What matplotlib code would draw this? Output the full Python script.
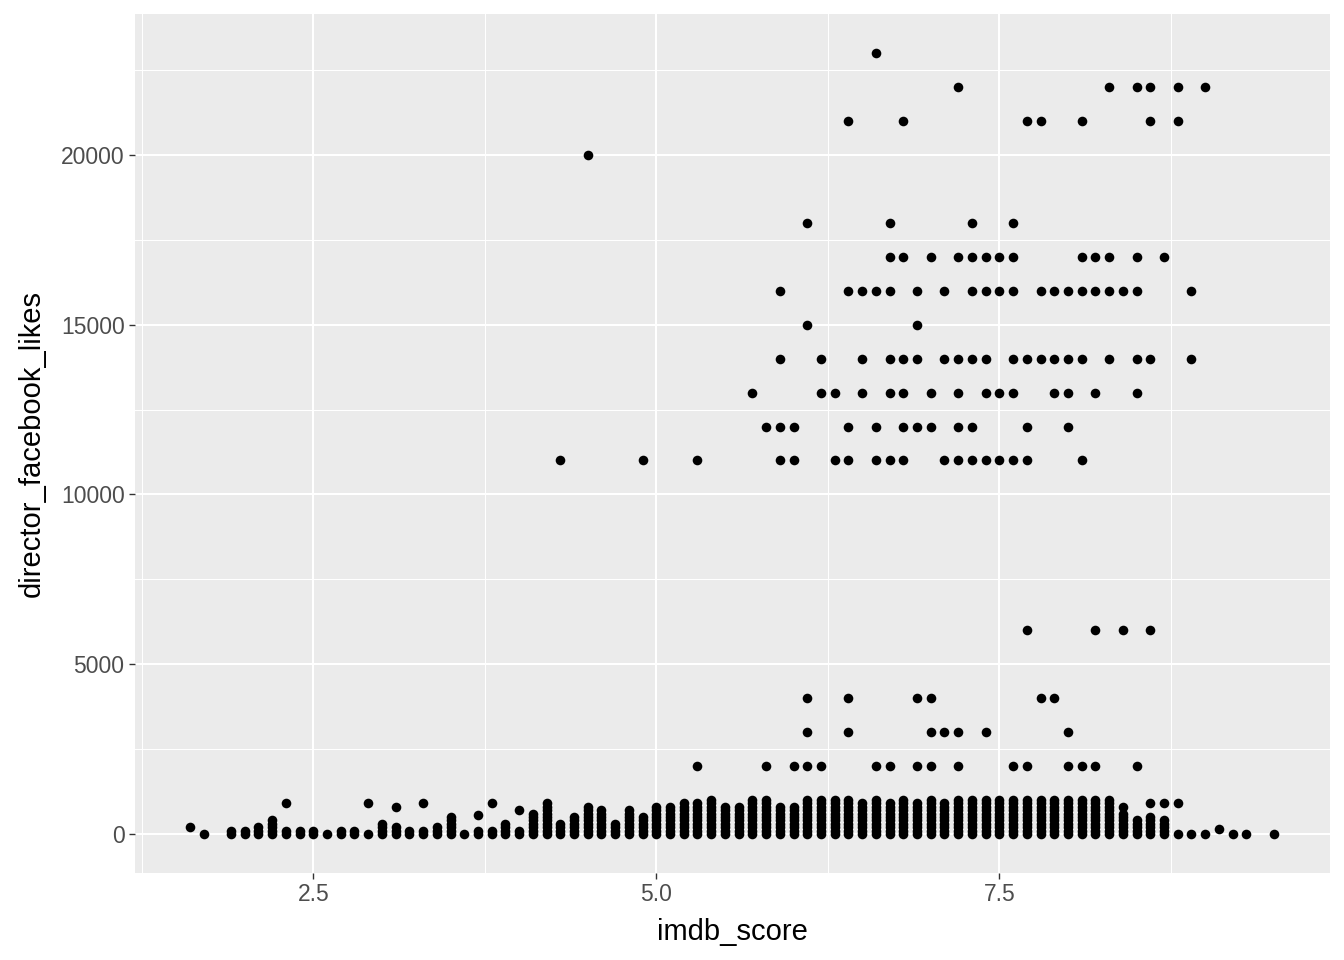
import matplotlib.pyplot as plt
import numpy as np

plt.rcParams['font.family'] = ['Liberation Sans', 'DejaVu Sans']

# low band (0-1000): score -> top value of the stacked column
low_x = [1.7, 1.9, 2.0, 2.1, 2.2, 2.3, 2.4, 2.5, 2.6, 2.7, 2.8, 2.9, 3.0, 3.1, 3.2, 3.3,
         3.4, 3.5, 3.6, 3.7, 3.8, 3.9, 4.0, 4.1, 4.2, 4.3, 4.4, 4.5, 4.6, 4.7, 4.8, 4.9,
         5.0, 5.1, 5.2, 5.3, 5.4, 5.5, 5.6, 5.7, 5.8, 5.9, 6.0, 6.1, 6.2, 6.3, 6.4, 6.5,
         6.6, 6.7, 6.8, 6.9, 7.0, 7.1, 7.2, 7.3, 7.4, 7.5, 7.6, 7.7, 7.8, 7.9, 8.0, 8.1,
         8.2, 8.3, 8.4, 8.5, 8.6, 8.7, 8.8, 8.9, 9.0, 9.2, 9.3, 9.5]
low_top = [0, 100, 100, 200, 400, 100, 100, 100, 0, 100, 100, 0, 300, 200, 100, 100,
           200, 500, 0, 100, 100, 300, 100, 600, 900, 300, 500, 800, 700, 300, 700, 500,
           800, 800, 900, 900, 1000, 800, 800, 1000, 1000, 800, 800, 1000, 1000, 1000, 1000, 900,
           1000, 900, 1000, 900, 1000, 900, 1000, 1000, 1000, 1000, 1000, 1000, 1000, 1000, 1000, 1000,
           1000, 1000, 600, 400, 500, 400, 0, 0, 0, 0, 0, 0]
low_levels = [0, 100, 200, 300, 400, 500, 600, 700, 800, 900, 1000]

# isolated points in the low band
extra_x = [1.6, 2.3, 2.9, 3.1, 3.3, 3.7, 3.8, 4.0, 8.4, 8.6, 8.7, 8.8, 9.1]
extra_y = [200, 900, 900, 800, 900, 550, 900, 700, 800, 900, 900, 900, 150]

# higher values, grouped by likes level
lv23 = [6.6]
lv22 = [7.2, 8.3, 8.5, 8.6, 8.8, 9.0]
lv21 = [6.4, 6.8, 7.7, 7.8, 8.1, 8.6, 8.8]
lv20 = [4.5]
lv18 = [6.1, 6.7, 7.3, 7.6]
lv17 = [6.7, 6.8, 7.0, 7.2, 7.3, 7.4, 7.5, 7.6, 8.1, 8.2, 8.3, 8.5, 8.7]
lv16 = [5.9, 6.4, 6.5, 6.6, 6.7, 6.9, 7.1, 7.3, 7.4, 7.5, 7.6, 7.8, 7.9, 8.0, 8.1, 8.2,
        8.3, 8.4, 8.5, 8.9]
lv15 = [6.1, 6.9]
lv14 = [5.9, 6.2, 6.5, 6.7, 6.8, 6.9, 7.1, 7.2, 7.3, 7.4, 7.6, 7.7, 7.8, 7.9, 8.0, 8.1,
        8.3, 8.5, 8.6, 8.9]
lv13 = [5.7, 6.2, 6.3, 6.5, 6.7, 6.8, 7.0, 7.2, 7.4, 7.5, 7.6, 7.9, 8.0, 8.2, 8.5]
lv12 = [5.8, 5.9, 6.0, 6.4, 6.6, 6.8, 6.9, 7.0, 7.2, 7.3, 7.7, 8.0]
lv11 = [4.3, 4.9, 5.3, 5.9, 6.0, 6.3, 6.4, 6.6, 6.7, 6.8, 7.1, 7.2, 7.3, 7.4, 7.5, 7.6,
        7.7, 8.1]
lv6 = [7.7, 8.2, 8.4, 8.6]
lv4 = [6.1, 6.4, 6.9, 7.0, 7.8, 7.9]
lv3 = [6.1, 6.4, 7.0, 7.1, 7.2, 7.4, 8.0]
lv2 = [5.3, 5.8, 6.0, 6.1, 6.2, 6.6, 6.7, 6.9, 7.0, 7.2, 7.6, 7.7, 8.0, 8.1, 8.2, 8.5]

levels = {23000: lv23, 22000: lv22, 21000: lv21, 20000: lv20, 18000: lv18, 17000: lv17,
          16000: lv16, 15000: lv15, 14000: lv14, 13000: lv13, 12000: lv12, 11000: lv11,
          6000: lv6, 4000: lv4, 3000: lv3, 2000: lv2}

X, Y = [], []
for xv, top in zip(low_x, low_top):
    for lv in low_levels:
        if lv <= top:
            X.append(xv)
            Y.append(lv)
X += extra_x
Y += extra_y
for yv, xs in levels.items():
    X += xs
    Y += [yv] * len(xs)

fig = plt.figure(figsize=(13.44, 9.6), dpi=100)
ax = fig.add_axes([0.1004, 0.0906, 0.8892, 0.8948])
ax.set_facecolor('#EBEBEB')
ax.scatter(X, Y, s=48, color='black', linewidths=0, zorder=3)

ax.set_xlim(1.20, 9.91)
ax.set_ylim(-1150, 24150)
ax.set_xticks([2.5, 5.0, 7.5])
ax.set_xticklabels(['2.5', '5.0', '7.5'])
ax.set_xticks([1.25, 3.75, 6.25, 8.75], minor=True)
ax.set_yticks([0, 5000, 10000, 15000, 20000])
ax.set_yticks([2500, 7500, 12500, 17500, 22500], minor=True)

ax.grid(which='major', color='white', linewidth=1.5)
ax.grid(which='minor', color='white', linewidth=0.75)
ax.set_axisbelow(True)
for s in ax.spines.values():
    s.set_visible(False)
ax.tick_params(which='major', length=4, width=1, color='#333333', labelcolor='#4D4D4D',
               labelsize=16.5, pad=3.5)
ax.tick_params(which='minor', length=0)

ax.set_xlabel('imdb_score', fontsize=21, color='black', labelpad=8)
ax.set_ylabel('director_facebook_likes', fontsize=21, color='black', labelpad=11)

fig.savefig('out.png', dpi=100)
